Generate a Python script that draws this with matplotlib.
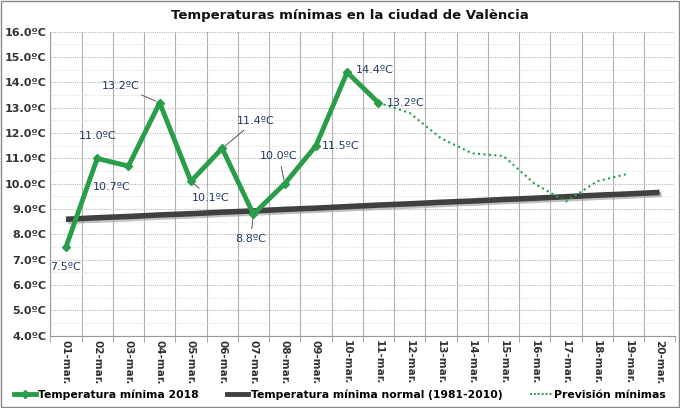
import matplotlib
matplotlib.use("Agg")
import matplotlib.pyplot as plt
import matplotlib.patheffects as pe
from matplotlib.lines import Line2D
from matplotlib.patches import Rectangle

# data
days = ["%02d-mar." % d for d in range(1, 21)]
tmin_2018 = [7.5, 11.0, 10.7, 13.2, 10.1, 11.4, 8.8, 10.0, 11.5, 14.4, 13.2]
tmin_normal = [8.60, 8.66, 8.71, 8.77, 8.82, 8.88, 8.93, 8.99, 9.04, 9.10,
               9.16, 9.21, 9.27, 9.32, 9.38, 9.43, 9.49, 9.55, 9.60, 9.66]
forecast_days = days[10:19]
tmin_forecast = [13.2, 12.8, 11.8, 11.2, 11.1, 10.0, 9.3, 10.1, 10.4]

# label offsets in points (dx, dy) and whether a leader line is drawn
label_offsets = [(0, -14, False), (0, 16, False), (-12, -15, False), (-28, 12, True),
                 (14, -12, True), (24, 20, True), (-2, -18, True), (-4, 20, True),
                 (18, 0, False), (20, 2, False), (20, 0, False)]

green = "#2a9d49"
navy = "#1f3864"

fig = plt.figure(figsize=(6.8, 4.08), dpi=100)
ax = fig.add_axes([0.074, 0.177, 0.919, 0.745])

x_all = list(range(len(days)))
x_obs = x_all[:len(tmin_2018)]
x_fc = [days.index(d) for d in forecast_days]

ax.plot(x_all, tmin_normal, color="#404040", lw=4, solid_capstyle="butt", zorder=3,
        path_effects=[pe.SimpleLineShadow(offset=(1.5, -1.5), shadow_color="#999999", alpha=0.6),
                      pe.Normal()])
ax.plot(x_fc, tmin_forecast, color=green, lw=1.5, ls=(0, (1, 1.6)), zorder=4)
ax.plot(x_obs, tmin_2018, color=green, lw=3.5, marker="D", ms=4.5, zorder=5)

for x, v, (dx, dy, lead) in zip(x_obs, tmin_2018, label_offsets):
    kw = {}
    if lead:
        kw["arrowprops"] = dict(arrowstyle="-", color="#555555", lw=0.7, shrinkA=2, shrinkB=3)
    ax.annotate(f"{v:.1f}ºC", xy=(x, v), xytext=(dx, dy), textcoords="offset points",
                ha="center", va="center", fontsize=8, color=navy, zorder=6, **kw)

ax.set_xlim(-0.5, len(days) - 0.5)
ax.set_ylim(4, 16)
ax.set_xticks(x_all)
ax.set_xticklabels(days, rotation=270, fontsize=7.5, fontweight="bold", color="#333333")
ax.set_xticks([i + 0.5 for i in range(-1, len(days))], minor=True)
ax.set_yticks(range(4, 17))
ax.set_yticklabels([f"{v:.1f}ºC" for v in range(4, 17)], fontsize=8,
                   fontweight="bold", color="#333333")
ax.set_yticks([v + 0.5 for v in range(4, 16)], minor=True)
ax.tick_params(axis="x", which="major", length=0, pad=3)
ax.tick_params(axis="x", which="minor", length=4, color="#999999")
ax.tick_params(axis="y", which="both", length=0, pad=3)

ax.grid(axis="x", which="minor", color="#b0b0b0", lw=0.8)
ax.grid(axis="y", which="major", color="#b8b8b8", lw=0.8, ls=(0, (1, 1)))
ax.grid(axis="y", which="minor", color="#dddddd", lw=0.6, ls=(0, (1, 1)))
ax.set_axisbelow(True)
for side in ["top", "right"]:
    ax.spines[side].set_visible(False)
ax.spines["left"].set_color("#999999")
ax.spines["bottom"].set_color("#999999")

fig.text(0.515, 0.962, "Temperaturas mínimas en la ciudad de València",
         ha="center", va="center", fontsize=9.5, fontweight="bold", color="#111111")

handles = [Line2D([], [], color=green, lw=3.5, marker="D", ms=4),
           Line2D([], [], color="#404040", lw=3.5),
           Line2D([], [], color=green, lw=1.4, ls=(0, (1, 1)))]
names = ["Temperatura mínima 2018", "Temperatura mínima normal (1981-2010)",
         "Previsión mínimas"]
fig.legend(handles, names, loc="center", bbox_to_anchor=(0.5, 0.033), ncol=3,
           frameon=False, handlelength=2.0, handletextpad=0.2, columnspacing=2.6,
           prop={"size": 7.8, "weight": "bold"})

fig.patches.append(Rectangle((0.002, 0.002), 0.996, 0.996, transform=fig.transFigure,
                             fill=False, edgecolor="#888888", lw=1))

fig.savefig("out.png", dpi=100)
